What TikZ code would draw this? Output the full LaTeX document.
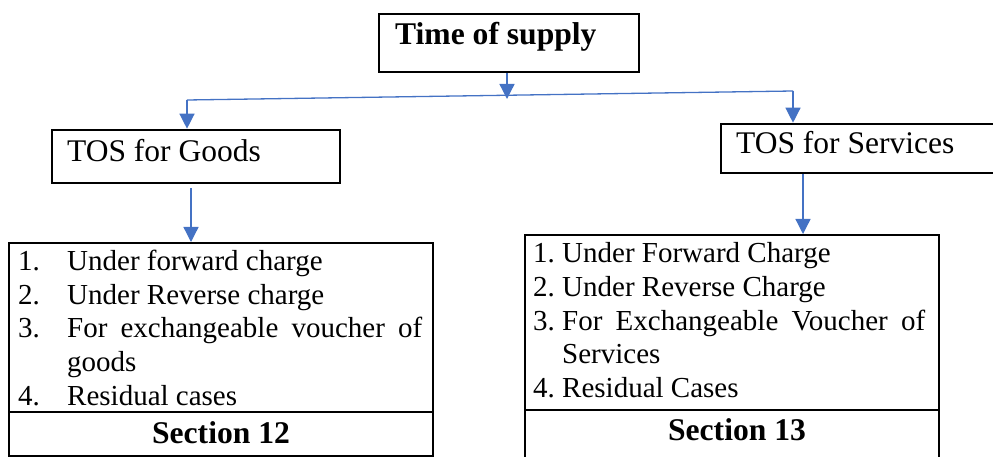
\documentclass[tikz,border=0pt]{standalone}
\usepackage{fontspec}
\setmainfont{Liberation Serif}
\usetikzlibrary{arrows.meta}
\definecolor{linkblue}{HTML}{4472C4}
\tikzset{
  headbox/.style={draw=black, line width=2.6pt, rectangle, inner sep=0pt},
  listbox/.style={draw=black, line width=2pt, rectangle, inner sep=0pt},
  link/.style={draw=linkblue, line width=1.3pt},
  arr/.style={link, -{Triangle[width=15pt,length=15pt]}},
  lbl/.style={anchor=base west, inner sep=0pt},
  headfont/.style={font=\fontsize{31.5}{36}\selectfont},
  boldfont/.style={font=\fontsize{31.6}{36}\selectfont\bfseries},
  itemfont/.style={font=\fontsize{29}{33}\selectfont},
}
\begin{document}
\begin{tikzpicture}[x=1pt, y=-1pt]
\clip (0,0) rectangle (993,457);

% header boxes
\node[headbox, minimum width=260pt, minimum height=58pt] (top) at (509,43) {};
\node[headbox, minimum width=288pt, minimum height=53pt] (goods) at (196,156.5) {};
\node[headbox, minimum width=289pt, minimum height=49pt] (serv) at (865.5,148.5) {};

\node[lbl, boldfont] (toptxt) at (395,45) {Time of supply};
\node[lbl, headfont] (goodstxt) at (67,162) {TOS for Goods};
\node[lbl, headfont] (servtxt) at (736,154) {TOS for Services};

% list boxes with their section rows
\node[listbox, minimum width=424pt, minimum height=169pt] (gitems) at (221,327.5) {};
\node[listbox, minimum width=424pt, minimum height=44pt] (gsec) at (221,434) {};
\node[listbox, minimum width=414pt, minimum height=175pt] (sitems) at (732,322.5) {};
\node[listbox, minimum width=414pt, minimum height=65pt] (ssec) at (732,442.5) {};

\node[anchor=base, inner sep=0pt, boldfont] (gsectxt) at (221,443) {Section 12};
\node[anchor=base, inner sep=0pt, boldfont] (ssectxt) at (737,440) {Section 13};

% goods items
\node[lbl, itemfont] (g1n) at (18,270) {1.};
\node[lbl, itemfont] (g1) at (67,270) {Under forward charge};
\node[lbl, itemfont] (g2n) at (18,304) {2.};
\node[lbl, itemfont] (g2) at (67,304) {Under Reverse charge};
\node[lbl, itemfont] (g3n) at (18,337) {3.};
\node[lbl, itemfont] (g3) at (67,337) {\makebox[355pt][s]{For exchangeable voucher of}};
\node[lbl, itemfont] (g3b) at (67,371) {goods};
\node[lbl, itemfont] (g4n) at (18,405) {4.};
\node[lbl, itemfont] (g4) at (67,405) {Residual cases};

% services items
\node[lbl, itemfont] (s1n) at (533,262) {1.};
\node[lbl, itemfont] (s1) at (562,262) {Under Forward Charge};
\node[lbl, itemfont] (s2n) at (533,296) {2.};
\node[lbl, itemfont] (s2) at (562,296) {Under Reverse Charge};
\node[lbl, itemfont] (s3n) at (533,330) {3.};
\node[lbl, itemfont] (s3) at (562,330) {\makebox[363pt][s]{For Exchangeable Voucher of}};
\node[lbl, itemfont] (s3b) at (562,363) {Services};
\node[lbl, itemfont] (s4n) at (533,397) {4.};
\node[lbl, itemfont] (s4) at (562,397) {Residual Cases};

% connector points
\coordinate (lt) at (187,100);
\coordinate (rt) at (793,91);
\coordinate (hub) at (507,99);
\coordinate (gx) at (191,0);
\coordinate (sx) at (803,0);

% connectors
\draw[link] (lt) -- (rt);
\draw[arr] (top.south -| hub) -- (hub);
\draw[arr] (lt) -- (goods.north -| lt);
\draw[arr] (rt) -- (serv.north -| rt);
\draw[arr, shorten <=4pt] (goods.south -| gx) -- (gitems.north -| gx);
\draw[arr] (serv.south -| sx) -- (sitems.north -| sx);
\end{tikzpicture}
\end{document}
